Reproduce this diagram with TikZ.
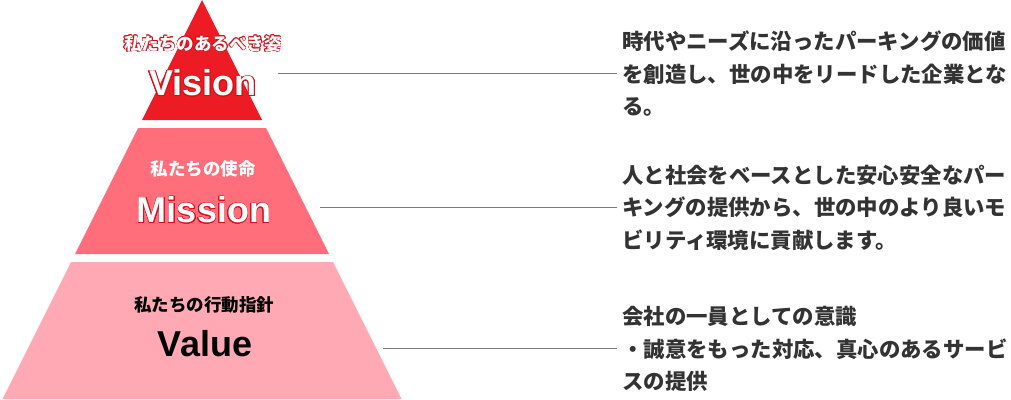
\documentclass[tikz,border=0pt]{standalone}
\usepackage{fontspec}
\usepackage{contour}
\newfontfamily\jpfont{Noto Sans CJK JP}
\newfontfamily\enfont{Liberation Sans}
\definecolor{visionred}{HTML}{ED1C24}
\definecolor{missionred}{HTML}{FF6E7A}
\definecolor{valuepink}{HTML}{FFA9B4}
\definecolor{rimred}{HTML}{D5121C}
\definecolor{linkgray}{HTML}{7A7A7A}
\definecolor{notegray}{HTML}{333333}
\contourlength{0.9pt}
\tikzset{
  tiertitle/.style={font=\jpfont\bfseries\fontsize{17.5}{17.5}\selectfont, inner sep=0},
  tiername/.style={font=\enfont\bfseries\fontsize{36}{36}\selectfont, inner sep=0},
  note/.style={font=\jpfont\bfseries\fontsize{21.4}{32.5}\selectfont, text=notegray,
    anchor=west, align=left, inner sep=0},
  link/.style={draw=linkgray, line width=0.9pt, shorten >=5pt},
}
\begin{document}
\begin{tikzpicture}[x=1pt,y=-1pt]
  \useasboundingbox (0,0) rectangle (1011,399);

  % pyramid tiers
  \fill[visionred] (202,0) -- (142,120) -- (262,120) -- cycle;
  \fill[missionred] (138,128) -- (266,128) -- (329,254) -- (75,254) -- cycle;
  \fill[valuepink] (71,262) -- (333,262) -- (401.5,399) -- (2.5,399) -- cycle;

  % tier labels
  \node[tiertitle, text=white] (visiontitle) at (203,44)
    {\contourlength{0.55pt}\contour{rimred}{私たちのあるべき姿}};
  \node[tiername, text=white] (visionname) at (203,83.5) {\contour{rimred}{Vision}};
  \node[tiertitle, text=white] (missiontitle) at (203,169) {私たちの使命};
  \node[tiername, text=white] (missionname) at (204,210.5) {\contour{rimred}{Mission}};
  \node[tiertitle, text=black] (valuetitle) at (204,305) {私たちの行動指針};
  \node[tiername, text=black] (valuename) at (205,343.5) {Value};

  % statements
  \node[note] (visionnote) at (622,74)
    {時代やニーズに沿ったパーキングの価値\\を創造し、世の中をリードした企業とな\\る。};
  \node[note] (missionnote) at (622,207.5)
    {人と社会をベースとした安心安全なパー\\キングの提供から、世の中のより良いモ\\ビリティ環境に貢献します。};
  \node[note] (valuenote) at (622,349)
    {会社の一員としての意識\\・誠意をもった対応、真心のあるサービ\\スの提供};

  % connectors
  \coordinate (visionfrom) at (278,73);
  \coordinate (missionfrom) at (320,207.5);
  \coordinate (valuefrom) at (383,348);
  \draw[link] (visionfrom) -- (visionfrom -| visionnote.west);
  \draw[link] (missionfrom) -- (missionfrom -| missionnote.west);
  \draw[link] (valuefrom) -- (valuefrom -| valuenote.west);

\end{tikzpicture}
\end{document}
